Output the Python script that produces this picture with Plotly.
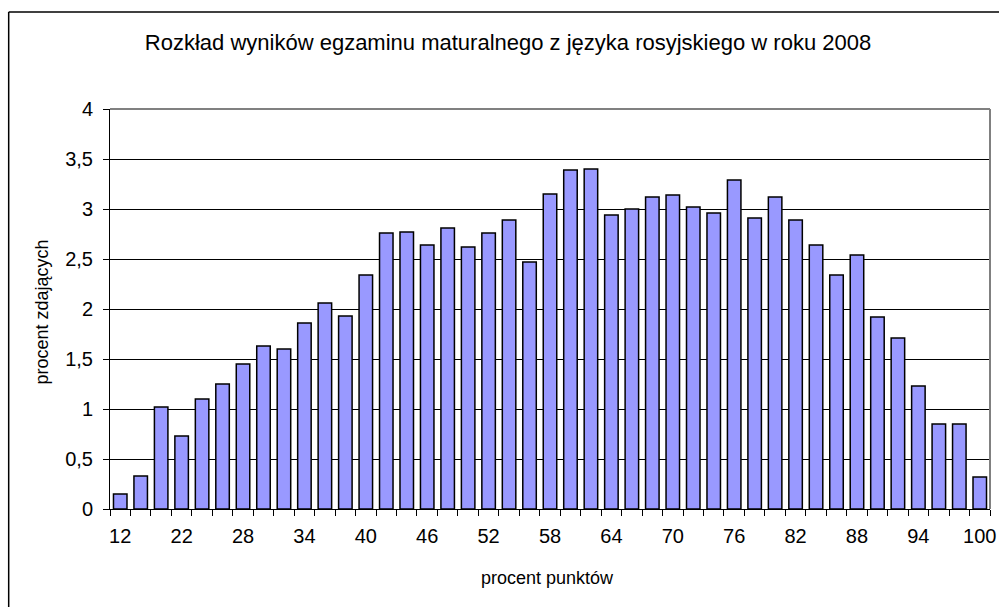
import plotly.graph_objects as go

categories = ["12", "16", "18"] + [str(v) for v in range(22, 101, 2)]
values = [0.15, 0.33, 1.02, 0.73, 1.10, 1.25, 1.45, 1.63, 1.60, 1.86, 2.06,
          1.93, 2.34, 2.76, 2.77, 2.64, 2.81, 2.62, 2.76, 2.89, 2.47, 3.15,
          3.39, 3.40, 2.94, 3.00, 3.12, 3.14, 3.02, 2.96, 3.29, 2.91, 3.12,
          2.89, 2.64, 2.34, 2.54, 1.92, 1.71, 1.23, 0.85, 0.85, 0.32]
tick_labels = [c if i % 3 == 0 else "" for i, c in enumerate(categories)]
y_ticks = [0, 0.5, 1, 1.5, 2, 2.5, 3, 3.5, 4]

FONT = "Liberation Sans, Arial, sans-serif"
W, H = 999, 607
L, R, T, B = 110, 3, 109, 98
pw, ph = W - L - R, H - T - B

def px_x(px):
    return (px - L) / pw

def px_y(py):
    return (H - B - py) / ph

fig = go.Figure(go.Bar(
    x=categories, y=values,
    marker=dict(color="#9999FF", line=dict(color="#000000", width=1.5)),
))

fig.update_layout(
    width=W, height=H,
    margin=dict(l=L, r=R, t=T, b=B, pad=0),
    paper_bgcolor="white", plot_bgcolor="white",
    separators=", ",
    bargap=0.34,
    showlegend=False,
    font=dict(family=FONT, color="#000000"),
    title=dict(text="Rozkład wyników egzaminu maturalnego z języka rosyjskiego w roku 2008",
               font=dict(size=22, family=FONT, color="#000"),
               xref="container", x=508 / W, xanchor="center",
               yref="container", y=1 - 42 / H, yanchor="middle"),
    xaxis=dict(type="category", tickmode="array", tickvals=categories, ticktext=tick_labels,
               tickson="boundaries", ticks="outside", ticklen=6, tickcolor="#000", tickwidth=1,
               showline=True, linecolor="#000", linewidth=1, showgrid=False,
               tickfont=dict(size=20, family=FONT, color="#000"), tickangle=0,
               ticklabelstandoff=9),
    yaxis=dict(range=[0, 4], tickmode="array", tickvals=y_ticks,
               ticks="outside", ticklen=6, tickcolor="#000", tickwidth=1,
               showline=True, linecolor="#000", linewidth=1,
               showgrid=True, gridcolor="#000", gridwidth=1, zeroline=False,
               tickfont=dict(size=20, family=FONT, color="#000"),
               ticklabelstandoff=6),
    shapes=[
        dict(type="line", xref="paper", yref="paper", x0=0, x1=1, y0=1, y1=1,
             line=dict(color="#808080", width=2), layer="above"),
        dict(type="line", xref="paper", yref="paper", x0=1, x1=1, y0=0, y1=1,
             line=dict(color="#808080", width=2), layer="above"),
        dict(type="line", xref="paper", yref="paper", x0=px_x(8), x1=px_x(8),
             y0=px_y(12), y1=px_y(620), line=dict(color="#000", width=1.5)),
        dict(type="line", xref="paper", yref="paper", x0=px_x(8), x1=px_x(1010),
             y0=px_y(12), y1=px_y(12), line=dict(color="#000", width=1.5)),
    ],
    annotations=[
        dict(text="procent punktów", xref="paper", yref="paper",
             x=px_x(550), y=px_y(578), xanchor="center", yanchor="middle",
             showarrow=False, font=dict(size=18, family=FONT, color="#000")),
        dict(text="procent zdających", xref="paper", yref="paper",
             x=px_x(42), y=px_y(312), xanchor="center", yanchor="middle",
             textangle=-90, showarrow=False, font=dict(size=18, family=FONT, color="#000")),
    ],
)

fig.write_html("out.html",
               config={"displayModeBar": False},
               post_script="document.body.style.margin='0';document.body.style.overflow='hidden';")
